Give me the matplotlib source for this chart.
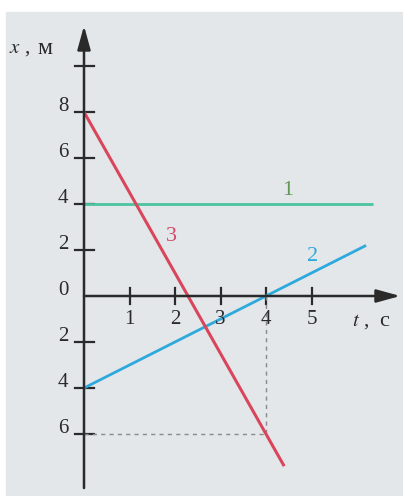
import matplotlib
matplotlib.use("Agg")
import matplotlib.pyplot as plt
from matplotlib.patches import Rectangle

plt.rcParams['font.family'] = ['Liberation Serif', 'DejaVu Serif']
plt.rcParams['mathtext.fontset'] = 'stix'

# --- данные: x(t) для трёх тел ---
t1 = [0, 6.35]
x1 = [4, 4]
t2 = [0, 6.2]
x2 = [-4, 2.2]
t3 = [0, 4.4]
x3 = [8, -7.4]

y_ticks = [10, 8, 6, 4, 2, -2, -4, -6]
y_labels = ['', '8', '6', '4', '2', '2', '4', '6']
x_ticks = [1, 2, 3, 4, 5]
x_labels = ['1', '2', '3', '4', '5']

# точка на графике 3, от которой идут пунктиры
t_mark, x_mark = 4, -6

# --- оформление ---
W, H = 403, 496
fig = plt.figure(figsize=(W / 100, H / 100), dpi=100)

ax = fig.add_axes([0, 0, 1, 1])
ax.set_xlim(-84 / 45.5, (W - 84) / 45.5)
ax.set_ylim((296 - H) / 23, 296 / 23)
ax.axis('off')
# серый фон под графиком
ax.add_patch(Rectangle((6 / W, 0), 1, 1 - 12 / H, transform=ax.transAxes,
                       color='#e3e7ea', zorder=0))

axis_col = '#2a2a2a'
txt_col = '#2a2a2a'
arrow = dict(arrowstyle='-|>,head_length=0.8,head_width=0.22', mutation_scale=18,
             lw=1.8, color=axis_col, shrinkA=0, shrinkB=0)
ax.annotate('', xy=(0, 11.75), xytext=(0, -8.35), arrowprops=arrow)
ax.annotate('', xy=(6.95, 0), xytext=(0, 0), arrowprops=arrow)

for v in y_ticks:
    ax.plot([-0.19, 0.22], [v, v], color=axis_col, lw=1.6)
for v in x_ticks:
    ax.plot([v, v], [-0.33, 0.36], color=axis_col, lw=1.6)

for v, s in zip(y_ticks, y_labels):
    ax.text(-0.34, v + 0.05, s, ha='right', va='baseline', fontsize=15, color=txt_col)
ax.text(-0.34, 0.05, '0', ha='right', va='baseline', fontsize=15, color=txt_col)
for v, s in zip(x_ticks, x_labels):
    ax.text(v, -0.62, s, ha='center', va='top', fontsize=15, color=txt_col)

# подписи осей
ax.text(-1.64, 10.75, '$x$ ,', ha='left', va='center', fontsize=15, color=txt_col)
ax.text(-0.86, 10.75, 'м', ha='center', va='center', fontsize=17, color=txt_col)
ax.text(5.88, -1.1, '$t$ ,', ha='left', va='center', fontsize=15, color=txt_col)
ax.text(6.6, -1.1, 'с', ha='center', va='center', fontsize=16, color=txt_col)

# пунктир к точке (4; -6)
ax.plot([t_mark, t_mark], [0, x_mark], color='#8a8a8a', lw=1, ls=(0, (3, 3)))
ax.plot([0, t_mark], [x_mark, x_mark], color='#8a8a8a', lw=1, ls=(0, (3, 3)))

ax.plot(t1, x1, color='#4cc3a0', lw=2, solid_capstyle='butt')
ax.plot(t2, x2, color='#2ea9dc', lw=2, solid_capstyle='butt')
ax.plot(t3, x3, color='#d9465c', lw=2.2, solid_capstyle='butt')

ax.text(4.48, 4.6, '1', ha='center', va='center', fontsize=16, color='#5e9a55')
ax.text(5.03, 1.7, '2', ha='center', va='center', fontsize=16, color='#2ea9dc')
ax.text(1.93, 2.6, '3', ha='center', va='center', fontsize=16, color='#d44a6a')

fig.savefig('out.png', dpi=100)
